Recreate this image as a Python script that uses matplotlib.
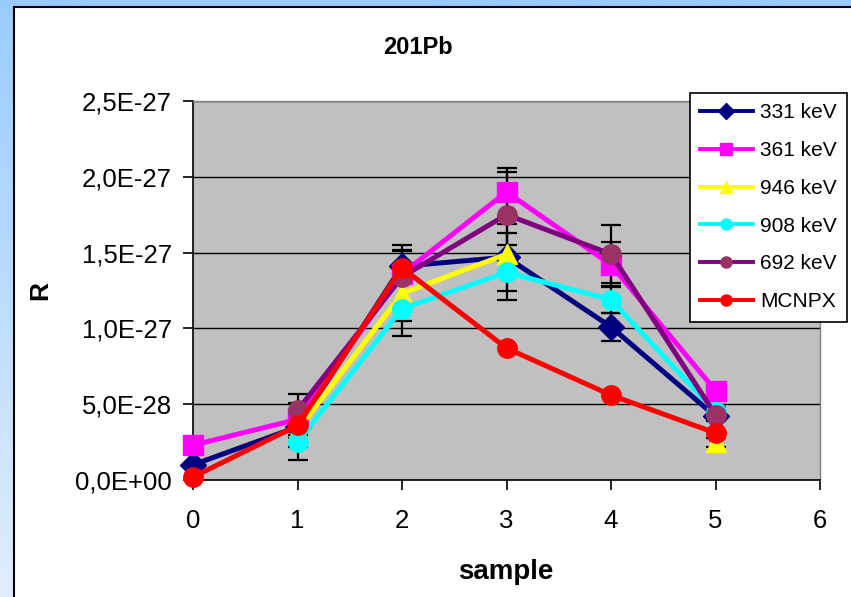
import numpy as np
import matplotlib.pyplot as plt
from matplotlib.patches import Rectangle
from matplotlib.lines import Line2D
from matplotlib.ticker import FuncFormatter, MultipleLocator

plt.rcParams["font.family"] = ["Liberation Sans", "DejaVu Sans"]

# sample index and response R (units of 1E-27), NaN = no measurement
samples = [0, 1, 2, 3, 4, 5]
labels = ["331 keV", "361 keV", "946 keV", "908 keV", "692 keV", "MCNPX"]

r_331 = [0.10, 0.35, 1.41, 1.47, 1.01, 0.42]
r_361 = [0.23, 0.40, 1.36, 1.90, 1.42, 0.59]
r_946 = [np.nan, 0.33, 1.23, 1.49, np.nan, 0.25]
r_908 = [np.nan, 0.25, 1.13, 1.37, 1.19, 0.45]
r_692 = [np.nan, 0.46, 1.34, 1.75, 1.49, 0.43]
r_mcnpx = [0.02, 0.36, 1.40, 0.87, 0.56, 0.31]

err_331 = [0.0, 0.22, 0.11, 0.22, 0.09, 0.03]
err_361 = [0.0, 0.03, 0.19, 0.16, 0.15, 0.03]
err_946 = [0.0, 0.03, 0.18, 0.14, 0.0, 0.03]
err_908 = [0.0, 0.03, 0.18, 0.18, 0.09, 0.03]
err_692 = [0.0, 0.05, 0.17, 0.28, 0.19, 0.03]

SCALE = 1e-27

series = [
    (r_331, err_331, "#000080", "#000080", "D"),
    (r_361, err_361, "#FF00FF", "#FF00FF", "s"),
    (r_946, err_946, "#FFFF00", "#FFFF00", "^"),
    (r_908, err_908, "#00FFFF", "#00FFFF", "o"),
    (r_692, err_692, "#800080", "#993366", "o"),
    (r_mcnpx, None, "#FF0000", "#FF0000", "o"),
]

W, H = 851, 597
fig = plt.figure(figsize=(W / 100, H / 100), dpi=100)

# light blue backdrop with a vertical fade
bg = fig.add_axes([0, 0, 1, 1], zorder=-10)
top_c = np.array([153, 204, 255]) / 255
bot_c = np.array([224, 237, 252]) / 255
t = np.linspace(0, 1, 256)[:, None]
grad = (top_c[None, :] * (1 - t) + bot_c[None, :] * t)[:, None, :]
bg.imshow(grad, aspect="auto", extent=[0, 1, 0, 1])
bg.set_axis_off()

# white chart area
fig.patches.append(Rectangle((14 / W, -0.1), 1.2, 1.1 - 7 / H,
                             transform=fig.transFigure, facecolor="white",
                             edgecolor="black", linewidth=1.5, zorder=-5))

ax = fig.add_axes([193 / W, 1 - 480 / H, (820 - 193) / W, (480 - 101) / H])
ax.set_facecolor("#C0C0C0")

for vals, err, lc, mc, mk in series:
    if err is None:
        continue
    y = np.array(vals) * SCALE
    e = np.array(err) * SCALE
    ax.errorbar(samples, y, yerr=e, fmt="none", ecolor="black",
                elinewidth=1.6, capsize=7, capthick=1.6, zorder=2.5,
                clip_on=False)
for i, (vals, err, lc, mc, mk) in enumerate(series):
    y = np.array(vals) * SCALE
    ax.plot(samples, y, color=lc, lw=3.6, zorder=3 + i, clip_on=False)
    ms = 14 if mk in ("o", "s") else (13 if mk == "D" else 15)
    ax.plot(samples, y, linestyle="none", marker=mk, ms=ms, color=mc,
            markeredgecolor=mc, zorder=3.5 + i, clip_on=False)

ax.set_xlim(0, 6)
ax.set_ylim(0, 2.5e-27)
ax.xaxis.set_major_locator(MultipleLocator(1))
ax.yaxis.set_major_locator(MultipleLocator(0.5e-27))
ax.yaxis.set_major_formatter(FuncFormatter(lambda v, p: f"{v:.1E}".replace(".", ",")))
ax.yaxis.get_offset_text().set_visible(False)
ax.grid(axis="y", color="black", lw=1.0, zorder=1)
ax.set_axisbelow(True)

ax.tick_params(axis="both", direction="out", length=7, width=1.2,
               labelsize=18.5, colors="black")
ax.tick_params(axis="x", pad=14)
ax.tick_params(axis="y", pad=8)
for side in ("left", "bottom"):
    ax.spines[side].set_color("black")
    ax.spines[side].set_linewidth(1.2)
for side in ("top", "right"):
    ax.spines[side].set_color("#808080")
    ax.spines[side].set_linewidth(1.0)

fig.text(418 / W, 1 - 47 / H, "201Pb", ha="center", va="center",
         fontsize=17, fontweight="bold")
fig.text(40 / W, 1 - 290 / H, "R", ha="center", va="center", rotation=90,
         fontsize=19, fontweight="bold")
fig.text(506 / W, 1 - 572 / H, "sample", ha="center", va="center",
         fontsize=20, fontweight="bold")

handles = [Line2D([], [], color=lc, lw=2.8, marker=mk, ms=8 if mk != "^" else 9,
                  markerfacecolor=mc, markeredgecolor=mc)
           for (vals, err, lc, mc, mk) in series]
leg = fig.legend(handles, labels, loc="upper left",
                 bbox_to_anchor=(690 / W, 1 - 93 / H), bbox_transform=fig.transFigure,
                 frameon=True, fancybox=False, framealpha=1, edgecolor="black",
                 fontsize=15, handlelength=2.5, handletextpad=0.35,
                 labelspacing=0.9, borderpad=0.5, borderaxespad=0)
leg.get_frame().set_linewidth(1.2)

fig.savefig("out.png", dpi=100)
